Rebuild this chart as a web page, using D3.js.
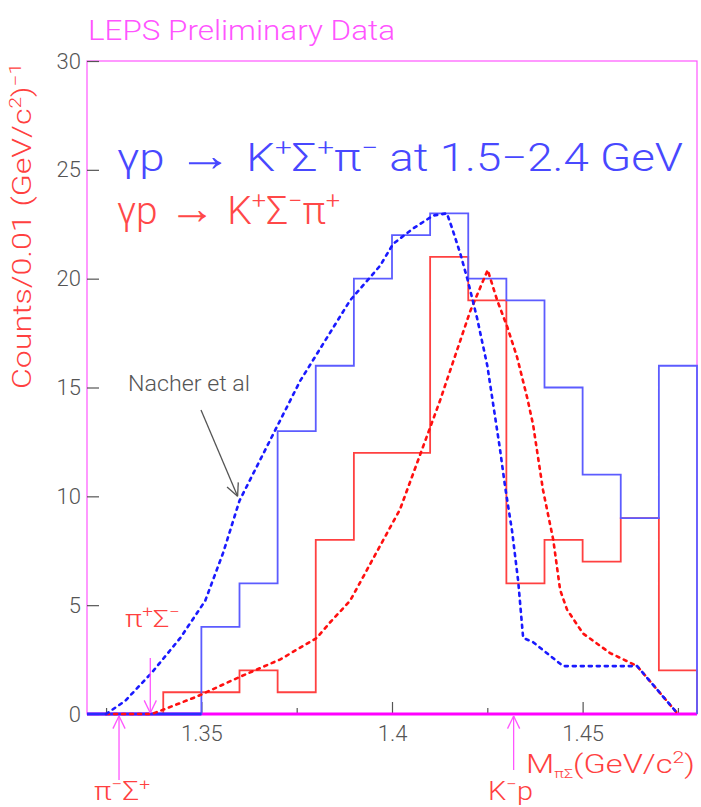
<!DOCTYPE html>
<html>
<head>
<meta charset="utf-8">
<script src="https://cdn.jsdelivr.net/npm/d3@7"></script>
<style>
  body { margin: 0; background: #fff; }
  text { font-family: Roboto, "Liberation Sans", sans-serif; font-weight: 300; }
</style>
</head>
<body>
<div id="chart"></div>
<script>
// bin edges of the M(pi Sigma) histograms, GeV/c^2
const binEdges = [1.32, 1.33, 1.34, 1.35, 1.36, 1.37, 1.38, 1.39, 1.40,
                  1.41, 1.42, 1.43, 1.44, 1.45, 1.46, 1.47, 1.48];
// counts per 0.01 bin
const blueCounts = [0, 0, 0, 4, 6, 13, 16, 20, 22, 23, 20, 19, 15, 11, 9, 16];
const redCounts  = [0, 0, 1, 1, 2, 1, 8, 12, 12, 21, 19, 6, 8, 7, 9, 2];

// Nacher et al curves [mass, counts]
const nacherBlue = [
  [1.325, 0], [1.330, 0.6], [1.337, 1.9], [1.3445, 3.5], [1.351, 5.2],
  [1.3557, 7.4], [1.360, 9.8], [1.3759, 15.3], [1.389, 19.0], [1.3969, 20.6],
  [1.4003, 21.6], [1.4055, 22.3], [1.4108, 22.9], [1.4144, 23.0], [1.4158, 22.3],
  [1.418, 21.1], [1.4199, 19.9], [1.4223, 18.2], [1.425, 16.0], [1.4283, 12.2],
  [1.4297, 10.4], [1.4315, 8.4], [1.4331, 6.1], [1.4344, 3.5], [1.437, 3.3],
  [1.4449, 2.2], [1.4643, 2.2], [1.475, 0]
];
const nacherRed = [
  [1.325, 0], [1.337, 0], [1.34, 0.2], [1.3488, 0.8], [1.36, 1.7], [1.3706, 2.5],
  [1.3803, 3.5], [1.3837, 4.2], [1.389, 5.2], [1.4021, 9.4], [1.4126, 14.4],
  [1.4205, 18.5], [1.4251, 20.4], [1.4276, 19.0], [1.4302, 17.8], [1.4328, 16.4],
  [1.4355, 14.5], [1.437, 13.3], [1.4396, 10.3], [1.4423, 8.0], [1.4441, 5.7],
  [1.4459, 4.8], [1.4501, 3.7], [1.4572, 2.8], [1.4643, 2.2], [1.475, 0]
];

const xMajor = [1.35, 1.40, 1.45];
const xMinor = [1.325, 1.375, 1.425, 1.475];
const yTicks = [0, 5, 10, 15, 20, 25, 30];

// thresholds, GeV/c^2
const thrPiMinusSigPlus = 1.3284;
const thrPiPlusSigMinus = 1.3366;
const thrKp = 1.4319;

const W = 701, H = 807;
const magenta = "#ff55ff";
const gray = "#555";
const red = "#ff4040";

const svg = d3.select("#chart").append("svg")
  .attr("width", W).attr("height", H);

const x = d3.scaleLinear().domain([1.32, 1.48]).range([87, 697]);
const y = d3.scaleLinear().domain([0, 30]).range([714, 61]);

// rich text: parts are [string, kind] with kind "sup", "sub", "big" or none
function richText(sel, parts, size) {
  let shift = 0;
  parts.forEach(([s, kind]) => {
    let target = 0, fs = size;
    if (kind === "sup") { target = -size * 0.4; fs = size * 0.65; }
    if (kind === "sub") { target = size * 0.2; fs = size * 0.5; }
    if (kind === "big") { fs = size * 1.2; }
    sel.append("tspan").attr("dy", target - shift).attr("font-size", fs).text(s);
    shift = target;
  });
}

// title
svg.append("text")
  .attr("x", 88).attr("y", 40)
  .attr("font-size", 28).attr("fill", magenta)
  .attr("textLength", 307).attr("lengthAdjust", "spacingAndGlyphs")
  .text("LEPS Preliminary Data");

// frame
svg.append("rect")
  .attr("x", x(1.32)).attr("y", y(30))
  .attr("width", x(1.48) - x(1.32)).attr("height", y(0) - y(30))
  .attr("fill", "none").attr("stroke", magenta).attr("stroke-width", 1.2);

// y axis
const yAxis = d3.axisLeft(y).tickValues(yTicks).tickSize(-12).tickPadding(6);
const gy = svg.append("g").attr("transform", `translate(${x(1.32)},0)`).call(yAxis);
gy.select(".domain").remove();
gy.selectAll(".tick line").attr("stroke", gray).attr("stroke-width", 1.2);
gy.selectAll(".tick text").attr("fill", gray).attr("font-size", 22)
  .attr("font-family", "Roboto, sans-serif").attr("font-weight", 300);

// x axis: major + minor ticks
const xAxis = d3.axisBottom(x).tickValues(xMajor).tickSize(-12).tickPadding(11)
  .tickFormat(d3.format(".3~f"));
const gx = svg.append("g").attr("transform", `translate(0,${y(0)})`).call(xAxis);
gx.select(".domain").remove();
gx.selectAll(".tick line").attr("stroke", gray).attr("stroke-width", 1.2);
gx.selectAll(".tick text").attr("fill", gray).attr("font-size", 22)
  .attr("font-family", "Roboto, sans-serif").attr("font-weight", 300);

const gxm = svg.append("g").attr("transform", `translate(0,${y(0)})`)
  .call(d3.axisBottom(x).tickValues(xMinor).tickSize(-6).tickFormat(""));
gxm.select(".domain").remove();
gxm.selectAll(".tick line").attr("stroke", gray).attr("stroke-width", 1.2);

// bottom axis line
svg.append("line")
  .attr("x1", x(1.32)).attr("x2", x(1.48))
  .attr("y1", y(0)).attr("y2", y(0))
  .attr("stroke", "#ff00ff").attr("stroke-width", 3);

// histograms
function histPoints(counts) {
  const pts = [[binEdges[0], 0]];
  counts.forEach((c, i) => {
    pts.push([binEdges[i], c]);
    pts.push([binEdges[i + 1], c]);
  });
  pts.push([binEdges[binEdges.length - 1], 0]);
  return pts;
}
const line = d3.line().x(d => x(d[0])).y(d => y(d[1]));

svg.append("path")
  .attr("d", line(histPoints(redCounts)))
  .attr("fill", "none").attr("stroke", red).attr("stroke-width", 1.8);

svg.append("path")
  .attr("d", line(histPoints(blueCounts)))
  .attr("fill", "none").attr("stroke", "#5c5cff").attr("stroke-width", 1.8);

// zero-level part of the blue histogram drawn over the axis
svg.append("path")
  .attr("d", line(histPoints(blueCounts).filter(d => d[1] === 0 && d[0] <= 1.35)))
  .attr("fill", "none").attr("stroke", "#2a2aff").attr("stroke-width", 3);

// Nacher et al curves
svg.append("path")
  .attr("d", line(nacherRed))
  .attr("fill", "none").attr("stroke", "#ff1010").attr("stroke-width", 2.6)
  .attr("stroke-dasharray", "3,5").attr("stroke-linecap", "round");

svg.append("path")
  .attr("d", line(nacherBlue))
  .attr("fill", "none").attr("stroke", "#1a1aff").attr("stroke-width", 2.6)
  .attr("stroke-dasharray", "3,5").attr("stroke-linecap", "round");

// legend
const leg1 = svg.append("text")
  .attr("x", 117).attr("y", 171).attr("fill", "#4848ff")
  .attr("textLength", 566).attr("lengthAdjust", "spacingAndGlyphs");
richText(leg1, [["γp"], [" → ", "big"], ["K"], ["+", "sup"], ["Σ"], ["+", "sup"],
  ["π"], ["−", "sup"], [" at 1.5−2.4 GeV"]], 38);

const leg2 = svg.append("text")
  .attr("x", 117).attr("y", 224).attr("fill", "#ff4848")
  .attr("textLength", 223).attr("lengthAdjust", "spacingAndGlyphs");
richText(leg2, [["γp"], [" → ", "big"], ["K"], ["+", "sup"], ["Σ"], ["−", "sup"],
  ["π"], ["+", "sup"]], 38);

// y axis title
const yt = svg.append("text")
  .attr("transform", "translate(31,226) rotate(-90)")
  .attr("text-anchor", "middle").attr("fill", red)
  .attr("textLength", 326).attr("lengthAdjust", "spacingAndGlyphs");
richText(yt, [["Counts/0.01 (GeV/c"], ["2", "sup"], [")"], ["−1", "sup"]], 25);

// x axis title
const xt = svg.append("text")
  .attr("x", 526).attr("y", 773).attr("fill", red)
  .attr("textLength", 169).attr("lengthAdjust", "spacingAndGlyphs");
richText(xt, [["M"], ["πΣ", "sub"], ["(GeV/c"], ["2", "sup"], [")"]], 25);

// Nacher et al annotation
svg.append("text")
  .attr("x", 128).attr("y", 391)
  .attr("font-size", 22).attr("fill", gray)
  .attr("textLength", 122).attr("lengthAdjust", "spacingAndGlyphs")
  .text("Nacher et al");

function arrow(x1, y1, x2, y2, color, head) {
  const a = Math.atan2(y2 - y1, x2 - x1);
  const g = svg.append("g").attr("stroke", color).attr("stroke-width", 1.3).attr("fill", "none");
  g.append("line").attr("x1", x1).attr("y1", y1).attr("x2", x2).attr("y2", y2);
  [0.45, -0.45].forEach(s => {
    g.append("line")
      .attr("x1", x2).attr("y1", y2)
      .attr("x2", x2 - head * Math.cos(a + s))
      .attr("y2", y2 - head * Math.sin(a + s));
  });
}
arrow(201, 410, x(1.3595), y(10.0), gray, 14);

// thresholds
arrow(x(thrPiPlusSigMinus), 658, x(thrPiPlusSigMinus), y(0) - 1, magenta, 14);
arrow(x(thrPiMinusSigPlus), 780, x(thrPiMinusSigPlus), y(0) + 2, magenta, 14);
arrow(x(thrKp), 770, x(thrKp), y(0) + 2, magenta, 14);

function particleLabel(px, py, parts, size, len) {
  const t = svg.append("text").attr("x", px).attr("y", py).attr("fill", red)
    .attr("textLength", len).attr("lengthAdjust", "spacingAndGlyphs");
  richText(t, parts, size);
}
particleLabel(125, 627, [["π"], ["+", "sup"], ["Σ"], ["−", "sup"]], 24, 55);
particleLabel(94, 800, [["π"], ["−", "sup"], ["Σ"], ["+", "sup"]], 26, 56);
particleLabel(488, 800, [["K"], ["−", "sup"], ["p"]], 26, 45);
</script>
</body>
</html>
